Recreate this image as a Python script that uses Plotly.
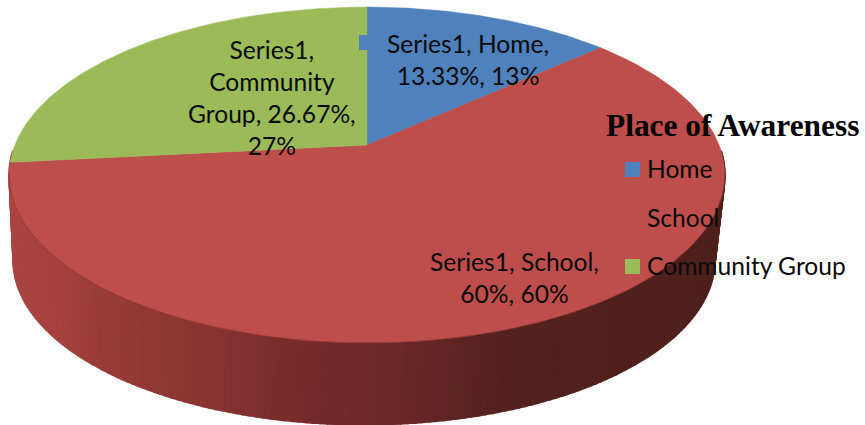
import numpy as np
import plotly.graph_objects as go

# Chart data
categories = ["Home", "School", "Community Group"]
shares = [13.33, 60.0, 26.67]
rounded = [13, 60, 27]
series_name = "Series1"
legend_title = "Place of Awareness"

slice_colors = ["#4f81bd", "#bd4e4b", "#9bbb59"]
text_font = "Lato"
text_size = 24.6
text_color = "#0a0a0a"

# Tilted-disc projection: a unit circle seen in perspective, in page pixels
TILT = 0.1786
TOP_FACE = dict(cx=367.0, cy=145.0, a=352.0, b=162.6)
BASE_FACE = dict(cx=364.0, cy=231.0, a=345.0, b=159.0)


def project(theta, face):
    """Map clockwise-from-north angles (radians) onto a projected face."""
    px, py = np.sin(theta), np.cos(theta)
    w = 1 + TILT * py
    return face["cx"] + face["a"] * px / w, face["cy"] - face["b"] * py / w


def side_color(x):
    stops_x = [15, 60, 100, 200, 280, 400, 500, 720]
    stops_rgb = np.array([
        [170, 68, 65], [165, 65, 62], [152, 60, 57], [138, 53, 51],
        [122, 44, 44], [106, 40, 40], [84, 33, 30], [78, 32, 28],
    ])
    rgb = [np.interp(x, stops_x, stops_rgb[:, i]) for i in range(3)]
    return "rgb(%d,%d,%d)" % tuple(int(round(c)) for c in rgb)


fig = go.Figure()

# Outer wall of the disc, built from thin shaded strips along the front rim
edges = np.radians(np.linspace(92, 268, 177))
for t0, t1 in zip(edges[:-1], edges[1:]):
    tx, ty = project(np.array([t0, t1]), TOP_FACE)
    bx, by = project(np.array([t1, t0]), BASE_FACE)
    xs = np.r_[tx, bx, tx[0]]
    ys = np.r_[ty, by, ty[0]]
    color = side_color(xs.mean())
    fig.add_trace(go.Scatter(
        x=xs, y=ys, mode="lines", fill="toself", fillcolor=color,
        line=dict(color=color, width=2), hoverinfo="skip", showlegend=False,
    ))

# Top face: one wedge per category, swept clockwise from north
cumulative = np.cumsum([0] + shares)
total = cumulative[-1]
for name, start, stop, color in zip(categories, cumulative[:-1], cumulative[1:], slice_colors):
    sweep = np.radians(np.linspace(start, stop, 160) / total * 360)
    ex, ey = project(sweep, TOP_FACE)
    fig.add_trace(go.Scatter(
        x=np.r_[TOP_FACE["cx"], ex, TOP_FACE["cx"]],
        y=np.r_[TOP_FACE["cy"], ey, TOP_FACE["cy"]],
        mode="lines", fill="toself", fillcolor=color,
        line=dict(color=color, width=0.5), name=name,
        hoverinfo="name", showlegend=False,
    ))

# Thin shadow where the top face meets the wall
rim_x, rim_y = project(np.radians(np.linspace(100, 260, 160)), TOP_FACE)
fig.add_trace(go.Scatter(
    x=rim_x, y=rim_y, mode="lines", line=dict(color="rgba(90,25,22,0.3)", width=1),
    hoverinfo="skip", showlegend=False,
))

# Legend keys, and the key carried by the Home data label
key_x = [632.5, 632.5, 632.5, 366.5]
key_y = [169.5, 218.0, 266.5, 42.5]
key_colors = slice_colors + [slice_colors[0]]
fig.add_trace(go.Scatter(
    x=key_x, y=key_y, mode="markers",
    marker=dict(symbol="square", size=15, color=key_colors, line=dict(width=0)),
    hoverinfo="skip", showlegend=False,
))


def label(text, x, y, anchor="center", **font):
    style = dict(family=text_font, size=text_size, color=text_color)
    style.update(font)
    fig.add_annotation(
        x=x, y=y, text=text, showarrow=False, xanchor=anchor, yanchor="middle",
        align="center", font=style, xref="x", yref="y",
    )


def pct(value):
    return f"{value:g}%"


label(f"{series_name}, {categories[0]},<br>{pct(shares[0])}, {rounded[0]}%", 468, 59)
label(f"{series_name}, {categories[1]},<br>{pct(shares[1])}, {rounded[1]}%", 514, 277)
label(
    f"{series_name},<br>Community<br>Group, {pct(shares[2])},<br>{rounded[2]}%",
    272, 97,
)

label(f"<b>{legend_title}</b>", 604, 125, anchor="left",
      family="Liberation Serif", size=31.4, color="#000000")
for name, y in zip(categories, key_y):
    label(name, 645, y - 1, anchor="left")

fig.update_layout(
    width=865, height=425, margin=dict(l=0, r=0, t=0, b=0),
    paper_bgcolor="white", plot_bgcolor="white", showlegend=False,
    xaxis=dict(range=[0, 865], visible=False, fixedrange=True),
    yaxis=dict(range=[425, 0], visible=False, fixedrange=True),
)
fig.write_html("out.html", config=dict(displayModeBar=False))
